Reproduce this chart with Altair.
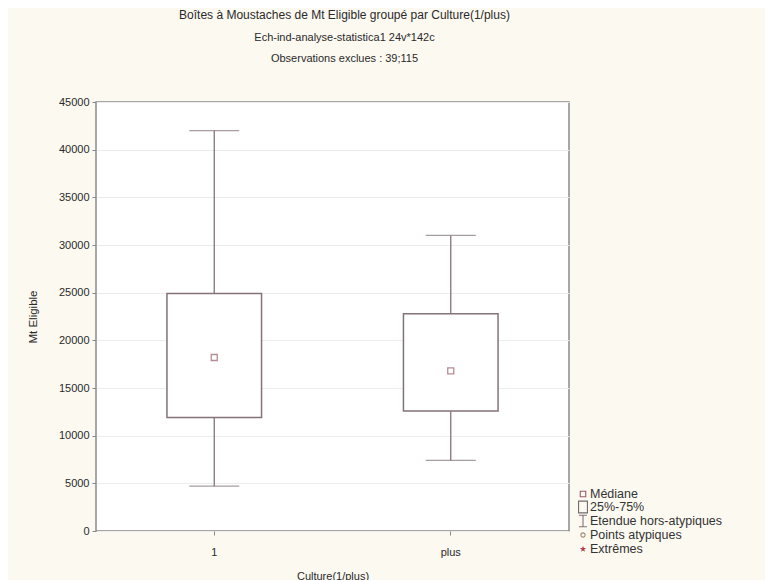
import altair as alt
import pandas as pd

# ---- data ----
categories = ["1", "plus"]
whisker_low = [4700, 7400]
q1 = [11900, 12600]
median = [18200, 16800]
q3 = [24900, 22800]
whisker_high = [42000, 31000]

y_ticks = [0, 5000, 10000, 15000, 20000, 25000, 30000, 35000, 40000, 45000]
legend_labels = ["Médiane", "25%-75%", "Etendue hors-atypiques", "Points atypiques", "Extrêmes"]

title_line1 = "Boîtes à Moustaches de Mt Eligible groupé par Culture(1/plus)"
title_line2 = "Ech-ind-analyse-statistica1 24v*142c"
title_line3 = "Observations exclues : 39;115"

df = pd.DataFrame({
    "cat": categories,
    "lo": whisker_low,
    "q1": q1,
    "med": median,
    "q3": q3,
    "hi": whisker_high,
})

FONT = "Liberation Sans"
BOX = "#857278"
MED = "#9a5c6c"
TXT = "#2a2a2a"

x_scale = alt.Scale(domain=categories, paddingInner=0.6, paddingOuter=0.3)
y_scale = alt.Scale(domain=[0, 45000], nice=False, zero=True)

x_axis = alt.Axis(title="Culture(1/plus)", labelAngle=0, grid=False, domain=False,
                  tickSize=4, tickColor="#888", labelPadding=11, titlePadding=13,
                  labelFont=FONT, labelFontSize=11, labelColor=TXT,
                  titleFont=FONT, titleFontSize=11, titleFontWeight="normal", titleColor=TXT)
y_axis = alt.Axis(title="Mt Eligible", values=y_ticks, format="d", grid=True, gridColor="#ececec",
                  domain=False, tickSize=4, tickColor="#888", labelPadding=3, titlePadding=20,
                  labelFont=FONT, labelFontSize=11, labelColor=TXT,
                  titleFont=FONT, titleFontSize=11.5, titleFontWeight="normal", titleColor=TXT)

base = alt.Chart(df)
X = alt.X("cat:N", scale=x_scale, axis=x_axis, sort=categories)

upper = base.mark_rule(color=BOX, strokeWidth=1.3).encode(
    x=X, y=alt.Y("q3:Q", scale=y_scale, axis=y_axis), y2="hi:Q")
lower = base.mark_rule(color=BOX, strokeWidth=1.3).encode(
    x=X, y=alt.Y("lo:Q", scale=y_scale, axis=y_axis), y2="q1:Q")
cap_hi = base.mark_tick(color=BOX, size=50, thickness=1.3, orient="horizontal").encode(
    x=X, y=alt.Y("hi:Q", scale=y_scale, axis=y_axis))
cap_lo = base.mark_tick(color=BOX, size=50, thickness=1.3, orient="horizontal").encode(
    x=X, y=alt.Y("lo:Q", scale=y_scale, axis=y_axis))
box = base.mark_bar(fill="white", stroke=BOX, strokeWidth=1.5).encode(
    x=X, y=alt.Y("q1:Q", scale=y_scale, axis=y_axis), y2="q3:Q")
med = base.mark_point(shape="square", size=36, filled=False, color=MED, strokeWidth=1.3).encode(
    x=X, y=alt.Y("med:Q", scale=y_scale, axis=y_axis))

layers = [upper, lower, cap_hi, cap_lo, box, med]

# ---- manual legend (bottom right, outside plot area) ----
legend_shapes = [
    ("square", 30, MED, False),
    ("M-0.75,-1H0.75V1H-0.75Z", 140, "#6e6e6e", False),
    ("M-0.7,-1H0.7M0,-1V1M-0.7,1H0.7", 130, BOX, False),
    ("circle", 18, "#a38c72", False),
    ("M0,-1L0.25,-0.3L1,-0.3L0.4,0.15L0.6,0.9L0,0.45L-0.6,0.9L-0.4,0.15L-1,-0.3L-0.25,-0.3Z", 40, "#b23a4a", True),
]
leg_x_sym = 487
leg_x_txt = 494
leg_y = [392, 405, 419, 433, 447]
for lab, (shp, sz, col, fil), yy in zip(legend_labels, legend_shapes, leg_y):
    d = alt.Data(values=[{"label": lab}])
    sym = alt.Chart(d).mark_point(shape=shp, size=sz, color=col, filled=fil, strokeWidth=1.1,
                                  opacity=1).encode(x=alt.value(leg_x_sym), y=alt.value(yy))
    txt = alt.Chart(d).mark_text(align="left", baseline="middle", font=FONT, fontSize=12.5,
                                 color="#333").encode(
        x=alt.value(leg_x_txt), y=alt.value(yy), text="label:N")
    layers += [sym, txt]

chart = alt.layer(*layers).properties(
    width=473,
    height=429,
    title=alt.TitleParams(
        text=title_line1,
        subtitle=[title_line2, title_line3],
        font=FONT, fontSize=12, fontWeight="normal", color=TXT,
        subtitleFont=FONT, subtitleFontSize=11, subtitleColor=TXT,
        subtitleLineHeight=21, subtitlePadding=10,
        anchor="middle", offset=31, dx=12,
    ),
    autosize=alt.AutoSizeParams(type="none"),
    padding={"left": 88, "top": 94, "right": 196, "bottom": 49},
    background="#fcf9f1",
).configure_view(
    fill="white", stroke="#8a8a8a", strokeWidth=1.5
)

chart.save("out.html", embed_options={"renderer": "svg", "actions": False})
